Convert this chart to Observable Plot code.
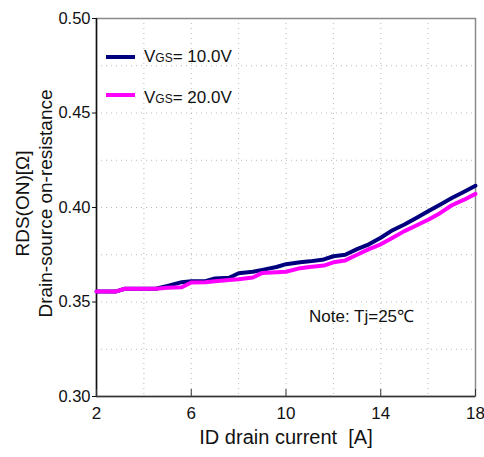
<!DOCTYPE html>
<html><head><meta charset="utf-8">
<script src="https://cdn.jsdelivr.net/npm/d3@7"></script>
<script src="https://cdn.jsdelivr.net/npm/@observablehq/plot@0.6"></script>
<style>
body{margin:0;background:#fff;}
#wrap{position:relative;width:484px;height:457px;font-family:"Liberation Sans",Arial,sans-serif;color:#111;}
.legline{position:absolute;height:4px;width:29px;}
.legtxt{position:absolute;font-family:"Liberation Sans",sans-serif;font-size:17px;line-height:20px;white-space:nowrap;}
.legtxt .sub{font-size:12px;}
.note{position:absolute;font-family:"Liberation Sans",sans-serif;font-size:17px;line-height:20px;white-space:nowrap;}
</style></head><body><div id="wrap"></div>
<script>
const current  = [2, 2.8, 3.2, 4.5, 5.0, 5.6, 6.0, 6.6, 7.0, 7.6, 8.0, 8.6, 9.0, 9.6, 10.0, 10.6, 11.0, 11.6, 12.0, 12.5, 13.0, 13.5, 14.0, 14.5, 15.0, 15.5, 16.0, 16.5, 17.0, 17.5, 18.0];
const rdsVgs10 = [0.3555, 0.3555, 0.357, 0.357, 0.3585, 0.3605, 0.361, 0.361, 0.3625, 0.3628, 0.3652, 0.366, 0.367, 0.3685, 0.370, 0.371, 0.3715, 0.3725, 0.3742, 0.375, 0.378, 0.3805, 0.384, 0.388, 0.391, 0.3945, 0.398, 0.4015, 0.405, 0.4082, 0.4115];
const rdsVgs20 = [0.3555, 0.3555, 0.357, 0.357, 0.3575, 0.3578, 0.3603, 0.3605, 0.361, 0.3617, 0.362, 0.363, 0.3654, 0.3658, 0.366, 0.3679, 0.3685, 0.3693, 0.371, 0.372, 0.375, 0.378, 0.3805, 0.384, 0.3875, 0.3905, 0.3935, 0.397, 0.4012, 0.404, 0.4072];
const seriesNames  = ["10.0V", "20.0V"];
const seriesColors = ["#00007f", "#ff00ff"];
const xDomain = [2, 18];
const yDomain = [0.30, 0.50];
const xTicks = [2, 6, 10, 14, 18];
const yTicks = [0.30, 0.35, 0.40, 0.45, 0.50];
const xGrid = [4, 6, 8, 10, 12, 14, 16];
const yGrid = [0.325, 0.35, 0.375, 0.40, 0.425, 0.45, 0.475];
const yTitle1 = "RDS(ON)[Ω]";
const yTitle2 = "Drain-source on-resistance";
const xTitle = "ID drain current  [A]";
const noteText = "Note: Tj=25℃";

const s10 = current.map((x, i) => ({x, y: rdsVgs10[i]}));
const s20 = current.map((x, i) => ({x, y: rdsVgs20[i]}));

const chart = Plot.plot({
  width: 484, height: 457,
  marginLeft: 96, marginRight: 9, marginTop: 18, marginBottom: 61,
  style: {fontFamily: "'Liberation Sans', Arial, sans-serif", fontSize: "16px", color: "#111", background: "#fff", overflow: "visible"},
  x: {domain: xDomain},
  y: {domain: yDomain},
  marks: [
    Plot.ruleX(xGrid, {stroke: "#b8b8b8", strokeDasharray: "1,4", strokeWidth: 1}),
    Plot.ruleY(yGrid, {stroke: "#b8b8b8", strokeDasharray: "1,4", strokeWidth: 1}),
    Plot.frame({stroke: "#8a8a8a", strokeWidth: 1.5}),
    Plot.ruleX([xDomain[0]], {stroke: "#111", strokeWidth: 1.5}),
    Plot.ruleY([yDomain[0]], {stroke: "#333", strokeWidth: 1.5}),
    Plot.line(s10, {x: "x", y: "y", stroke: seriesColors[0], strokeWidth: 4}),
    Plot.line(s20, {x: "x", y: "y", stroke: seriesColors[1], strokeWidth: 4}),
    Plot.axisY({ticks: yTicks, tickFormat: d3.format(".2f"), tickSize: 4, tickPadding: 2, label: null, fontSize: 16.5}),
    Plot.axisX({ticks: xTicks, tickFormat: d => d, tickSize: 0, tickPadding: 10, label: null, fontSize: 17}),
    Plot.axisX({ticks: xTicks, tickSize: 7, dy: -7, text: null, label: null, stroke: "#333"}),
    Plot.text([yTitle1], {text: d => d, frameAnchor: "left", textAnchor: "middle", rotate: -90, dx: -74, dy: -4, fontSize: 19}),
    Plot.text([yTitle2], {text: d => d, frameAnchor: "left", textAnchor: "middle", rotate: -90, dx: -51, dy: -4, fontSize: 19}),
    Plot.text([xTitle], {text: d => d, frameAnchor: "bottom", dy: 47, fontSize: 20})
  ]
});
const wrap = document.getElementById("wrap");
wrap.appendChild(chart);

const legTops = [57, 95];
seriesNames.forEach((name, i) => {
  const ln = document.createElement("div");
  ln.className = "legline";
  ln.style.left = "106px"; ln.style.top = (legTops[i] - 2) + "px";
  ln.style.background = seriesColors[i];
  wrap.appendChild(ln);
  const tx = document.createElement("div");
  tx.className = "legtxt";
  tx.style.left = "144px"; tx.style.top = (legTops[i] - 10 + (i ? 3 : 0)) + "px";
  tx.innerHTML = 'V<span class="sub">GS</span>= ' + name;
  wrap.appendChild(tx);
});
const note = document.createElement("div");
note.className = "note";
note.style.left = "309px"; note.style.top = "307px";
note.textContent = noteText;
wrap.appendChild(note);
</script>
</body></html>
